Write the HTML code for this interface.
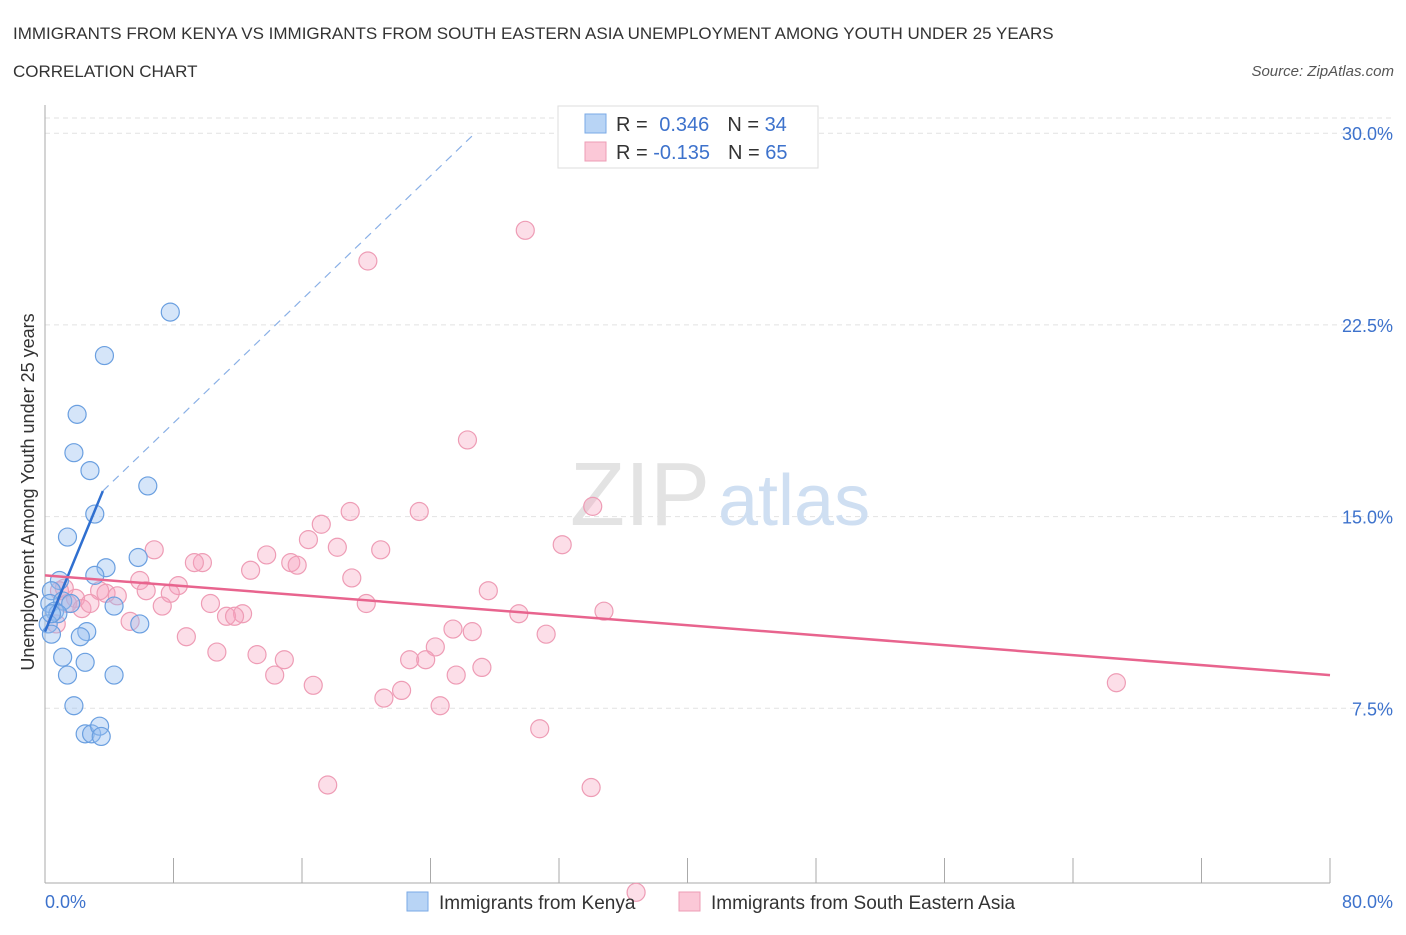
<!DOCTYPE html>
<html><head><meta charset="utf-8"><style>
body{margin:0;background:#fff;font-family:"Liberation Sans",sans-serif;}
svg text{font-family:"Liberation Sans",sans-serif;}
</style></head><body>
<svg id="chart" width="1406" height="930" xmlns="http://www.w3.org/2000/svg">
<text x="13" y="39" font-size="17" fill="#333">IMMIGRANTS FROM KENYA VS IMMIGRANTS FROM SOUTH EASTERN ASIA UNEMPLOYMENT AMONG YOUTH UNDER 25 YEARS</text>
<text x="13" y="77" font-size="17" fill="#333">CORRELATION CHART</text>
<text x="1394" y="76" font-size="15" font-style="italic" fill="#555" text-anchor="end">Source: ZipAtlas.com</text>
<g id="grid"></g>
<text x="710" y="525" font-size="90" fill="#e3e3e3" text-anchor="end" font-family="Liberation Serif">ZIP</text>
<text x="718" y="525" font-size="72" fill="#cfdff2">atlas</text>
<g id="axes"></g>
<g id="marks"></g>
<text x="34" y="492" font-size="18" fill="#333" text-anchor="middle" transform="rotate(-90 34 492)">Unemployment Among Youth under 25 years</text>
<g>
<rect x="558" y="106" width="260" height="62" fill="#fff" stroke="#ddd"/>
<rect x="585" y="114" width="21" height="19" fill="#b8d4f5" stroke="#7aaae6"/>
<rect x="585" y="142" width="21" height="19" fill="#fbc8d7" stroke="#ee9cb5"/>
<text x="616" y="131" font-size="20" fill="#333">R = <tspan fill="#3d72cc" dx="6">0.346</tspan><tspan fill="#333" dx="18">N = </tspan><tspan fill="#3d72cc">34</tspan></text>
<text x="616" y="159" font-size="20" fill="#333">R = <tspan fill="#3d72cc">-0.135</tspan><tspan fill="#333" dx="18">N = </tspan><tspan fill="#3d72cc">65</tspan></text>
</g>
<g>
<rect x="407" y="892" width="21" height="19" fill="#b8d4f5" stroke="#7aaae6"/>
<text x="439" y="909" font-size="19" fill="#333">Immigrants from Kenya</text>
<rect x="679" y="892" width="21" height="19" fill="#fbc8d7" stroke="#ee9cb5"/>
<text x="711" y="909" font-size="19" fill="#333">Immigrants from South Eastern Asia</text>
</g>
</svg>
<script>
const yTicks=[7.5,15,22.5,30];
const yTickLabels=["7.5%","15.0%","22.5%","30.0%"];
const xEndLabels=["0.0%","80.0%"];
const kenyaX=[7.8,3.7,2.0,1.8,2.8,3.1,6.4,1.4,5.8,3.8,3.1,0.9,0.4,0.3,1.1,1.6,0.6,0.8,0.2,0.4,4.3,5.9,2.6,2.2,1.1,2.5,1.4,4.3,1.8,2.5,2.9,3.4,3.5,0.4];
const kenyaY=[23.0,21.3,19.0,17.5,16.8,15.1,16.2,14.2,13.4,13.0,12.7,12.5,12.1,11.6,11.7,11.6,11.3,11.2,10.8,10.4,11.5,10.8,10.5,10.3,9.5,9.3,8.8,8.8,7.6,6.5,6.5,6.8,6.4,11.2];
const seaX=[29.9,20.1,26.3,34.1,23.3,19.0,17.2,16.4,18.2,20.9,32.2,6.8,13.8,9.8,9.3,15.3,15.7,12.8,19.1,5.9,8.3,27.6,3.4,6.3,3.8,7.8,4.5,20.0,10.3,7.3,12.3,29.5,34.8,11.3,11.8,5.3,25.4,26.6,8.8,31.2,24.3,10.7,13.2,14.9,22.7,23.7,27.2,14.3,25.6,16.7,66.7,22.2,21.1,24.6,30.8,17.6,34.0,36.8,0.9,1.4,0.7,1.9,1.2,2.3,2.8];
const seaY=[26.2,25.0,18.0,15.4,15.2,15.2,14.7,14.1,13.8,13.7,13.9,13.7,13.5,13.2,13.2,13.2,13.1,12.9,12.6,12.5,12.3,12.1,12.1,12.1,12.0,12.0,11.9,11.6,11.6,11.5,11.2,11.2,11.3,11.1,11.1,10.9,10.6,10.5,10.3,10.4,9.9,9.7,9.6,9.4,9.4,9.4,9.1,8.8,8.8,8.4,8.5,8.2,7.9,7.6,6.7,4.5,4.4,0.3,12.1,11.6,10.8,11.8,12.2,11.4,11.6];
const kenyaLine=[0,10.5,3.6,16.0];
const kenyaDash=[3.6,16.0,26.6,29.9];
const seaLine=[0,12.7,80,8.8];
const X=v=>45+v/80*1285, Y=v=>900-v/7.5*191.7;
const NS="http://www.w3.org/2000/svg";
function mk(p,t,a){const e=document.createElementNS(NS,t);for(const k in a)e.setAttribute(k,a[k]);p.appendChild(e);return e;}
const grid=document.getElementById('grid'),axes=document.getElementById('axes'),marks=document.getElementById('marks');
yTicks.forEach((t,i)=>{
 const l=mk(grid,'line',{x1:45,x2:1392,y1:Y(t),y2:Y(t),stroke:'#e2e2e2','stroke-dasharray':'5,4'});
 
 
 const tx=mk(axes,'text',{x:1393,y:Y(t)+7,'font-size':18,fill:'#3d72cc','text-anchor':'end'});
 tx.textContent=yTickLabels[i];
 
 
});
const tg=mk(grid,'line',{x1:45,x2:1392,y1:118,y2:118,stroke:'#e2e2e2','stroke-dasharray':'5,4'});


mk(axes,'line',{x1:45,x2:45,y1:105,y2:883,stroke:'#aaa'});
mk(axes,'line',{x1:45,x2:1330,y1:883,y2:883,stroke:'#aaa'});
for(let i=0;i<=10;i++){const x=45+i*128.5;const t=mk(axes,'line',{x1:x,x2:x,y1:883,y2:858,stroke:'#aaa'});
 
 }
const xl=mk(axes,'text',{x:45,y:908,'font-size':18,fill:'#3d72cc'});xl.textContent=xEndLabels[0];


const xr=mk(axes,'text',{x:1393,y:908,'font-size':18,fill:'#3d72cc','text-anchor':'end'});xr.textContent=xEndLabels[1];


seaX.forEach((v,i)=>{const c=mk(marks,'circle',{cx:X(v),cy:Y(seaY[i]),r:9,fill:'rgba(246,160,188,0.35)',stroke:'#ee9cb5','stroke-width':1.2});
 
 });
kenyaX.forEach((v,i)=>{const c=mk(marks,'circle',{cx:X(v),cy:Y(kenyaY[i]),r:9,fill:'rgba(150,190,240,0.4)',stroke:'#6a9fe0','stroke-width':1.2});
 
 });
const d=mk(marks,'line',{x1:X(kenyaDash[0]),y1:Y(kenyaDash[1]),x2:X(kenyaDash[2]),y2:Y(kenyaDash[3]),stroke:'#8ab0e6','stroke-width':1.2,'stroke-dasharray':'8,6'});


const kl=mk(marks,'line',{x1:X(kenyaLine[0]),y1:Y(kenyaLine[1]),x2:X(kenyaLine[2]),y2:Y(kenyaLine[3]),stroke:'#2f6fd0','stroke-width':2.5});


const sl=mk(marks,'line',{x1:X(seaLine[0]),y1:Y(seaLine[1]),x2:X(seaLine[2]),y2:Y(seaLine[3]),stroke:'#e8648e','stroke-width':2.5});


</script>
</body></html>
